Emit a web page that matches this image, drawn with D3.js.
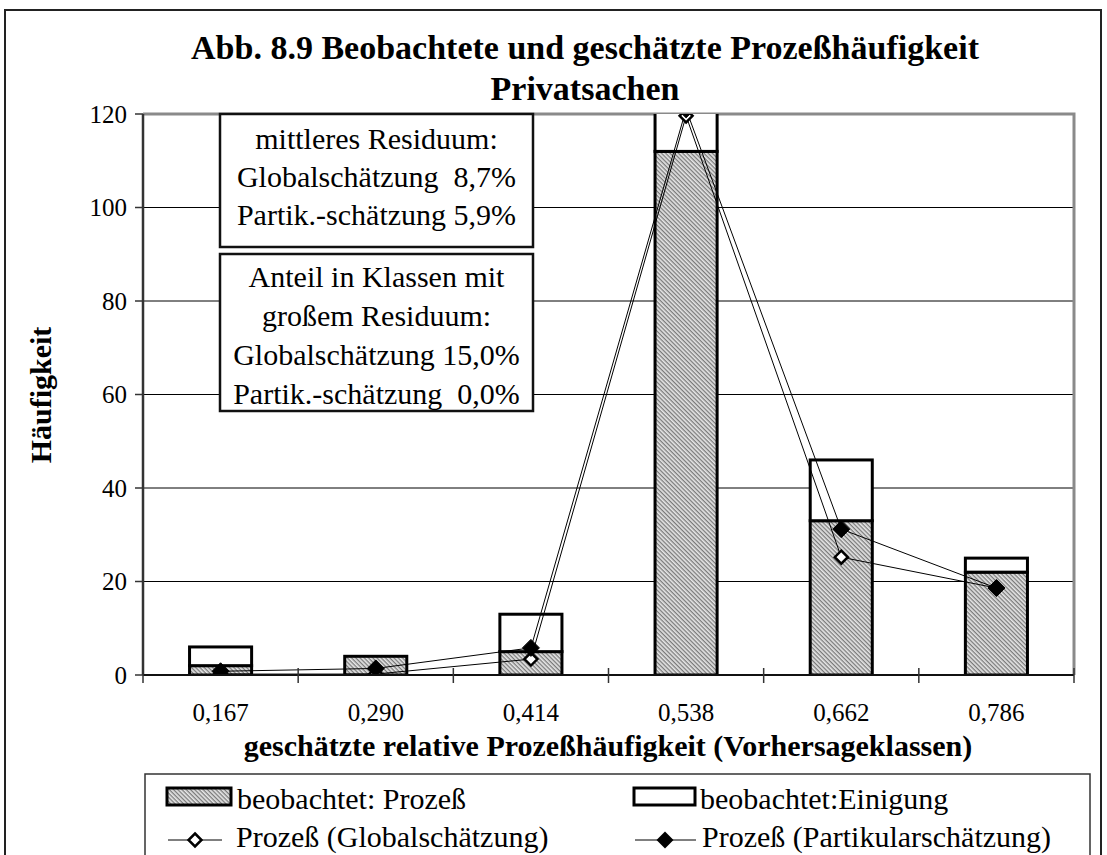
<!DOCTYPE html>
<html><head><meta charset="utf-8">
<script src="https://cdn.jsdelivr.net/npm/d3@7"></script>
<style>body{margin:0;background:#fff}svg{display:block}text{font-family:"Liberation Serif","Times New Roman",serif;fill:#000}</style>
</head><body><div id="c"></div>
<script>
const categories = ["0,167","0,290","0,414","0,538","0,662","0,786"];
const obsProzess = [2,4,5,112,33,22];
const obsEinigung = [4,0,8,14,13,3];
const estGlobal = [0.2,0.2,3.4,119.6,25.2,18.6];
const estPartikular = [0.8,1.4,5.8,121,31.2,18.6];
const yTicks = [0,20,40,60,80,100,120];
const titleLines = ["Abb. 8.9 Beobachtete und geschätzte Prozeßhäufigkeit","Privatsachen"];
const box1Lines = ["mittleres Residuum:","Globalschätzung  8,7%","Partik.-schätzung 5,9%"];
const box2Lines = ["Anteil in Klassen mit","großem Residuum:","Globalschätzung 15,0%","Partik.-schätzung  0,0%"];
const legendLabels = ["beobachtet: Prozeß","beobachtet:Einigung","Prozeß (Globalschätzung)","Prozeß (Partikularschätzung)"];

const W=1107,H=855;
const svg=d3.select("#c").append("svg").attr("width",W).attr("height",H);
const defs=svg.append("defs");
const pat=defs.append("pattern").attr("id","hatch").attr("patternUnits","userSpaceOnUse")
  .attr("width",3).attr("height",3).attr("patternTransform","rotate(45)");
pat.append("rect").attr("width",3).attr("height",3).attr("fill","#e6e6e6");
pat.append("rect").attr("width",3).attr("height",1.3).attr("fill","#7a7a7a");

// outer border
svg.append("rect").attr("x",5).attr("y",10).attr("width",1096).attr("height",860)
  .attr("fill","none").attr("stroke","#222").attr("stroke-width",2);

const L=143,R=1074,T=114,B=675;
const x=d3.scaleBand().domain(categories).range([L,R]).paddingInner(0.6).paddingOuter(0.3);
const y=d3.scaleLinear().domain([0,120]).range([B,T]);
defs.append("clipPath").attr("id","clip").append("rect").attr("x",L).attr("y",T).attr("width",R-L).attr("height",B-T);

// gridlines
svg.append("g").selectAll("line").data(yTicks.filter(d=>d>0&&d<120)).join("line")
  .attr("x1",L).attr("x2",R).attr("y1",d=>y(d)).attr("y2",d=>y(d)).attr("stroke","#000").attr("stroke-width",1);
// plot border top/right gray
svg.append("path").attr("d",`M${L},${T}H${R}V${B}`).attr("fill","none").attr("stroke","#8a8a8a").attr("stroke-width",3);

const g=svg.append("g").attr("clip-path","url(#clip)");
// bars
g.selectAll(".bp").data(categories).join("rect")
  .attr("x",d=>x(d)).attr("width",x.bandwidth())
  .attr("y",(d,i)=>y(obsProzess[i])).attr("height",(d,i)=>y(0)-y(obsProzess[i]))
  .attr("fill","url(#hatch)").attr("stroke","#000").attr("stroke-width",3);
g.selectAll(".be").data(categories.filter((d,i)=>obsEinigung[i]>0)).join("rect")
  .attr("x",d=>x(d)).attr("width",x.bandwidth())
  .attr("y",d=>{const i=categories.indexOf(d);return y(obsProzess[i]+obsEinigung[i]);})
  .attr("height",d=>{const i=categories.indexOf(d);return y(obsProzess[i])-y(obsProzess[i]+obsEinigung[i]);})
  .attr("fill","#fff").attr("stroke","#000").attr("stroke-width",3);

// axes
const ax=svg.append("g");
ax.append("line").attr("x1",L).attr("x2",L).attr("y1",T).attr("y2",B).attr("stroke","#333").attr("stroke-width",2.5);
ax.append("line").attr("x1",L).attr("x2",R).attr("y1",B).attr("y2",B).attr("stroke","#111").attr("stroke-width",2);
ax.selectAll(".yt").data(yTicks).join("line").attr("x1",L-8).attr("x2",L).attr("y1",d=>y(d)).attr("y2",d=>y(d)).attr("stroke","#333").attr("stroke-width",1.5);
ax.selectAll(".yl").data(yTicks).join("text").attr("x",L-16).attr("y",d=>y(d)).attr("text-anchor","end")
  .attr("dominant-baseline","central").attr("font-size",25).text(d=>d);
const step=x.step();
const bounds=d3.range(categories.length+1).map(i=>L+i*step);
ax.selectAll(".xt").data(bounds).join("line").attr("x1",d=>d).attr("x2",d=>d).attr("y1",B-7).attr("y2",B+8).attr("stroke","#333").attr("stroke-width",1.5);
ax.selectAll(".xl").data(categories).join("text").attr("x",d=>x(d)+x.bandwidth()/2).attr("y",712)
  .attr("text-anchor","middle").attr("dominant-baseline","central").attr("font-size",25).text(d=>d);

// lines
const cx=d=>x(d)+x.bandwidth()/2;
const line=vals=>d3.line().x((d,i)=>cx(categories[i])).y(d=>y(d))(vals);
g.append("path").attr("d",line(estGlobal)).attr("fill","none").attr("stroke","#000").attr("stroke-width",1);
g.append("path").attr("d",line(estPartikular)).attr("fill","none").attr("stroke","#000").attr("stroke-width",1);
const diamond=(s)=>`M0,${-s}L${s},0L0,${s}L${-s},0Z`;
g.selectAll(".mg").data(estGlobal).join("path").attr("d",diamond(6.5))
  .attr("transform",(d,i)=>`translate(${cx(categories[i])},${y(d)})`).attr("fill","#fff").attr("stroke","#000").attr("stroke-width",2.5);
g.selectAll(".mp").data(estPartikular).join("path").attr("d",diamond(8.5))
  .attr("transform",(d,i)=>`translate(${cx(categories[i])},${y(d)})`).attr("fill","#000").attr("stroke","#000").attr("stroke-width",1);

// text boxes
function tbox(lines,x0,y0,w,h,ys){
  svg.append("rect").attr("x",x0).attr("y",y0).attr("width",w).attr("height",h).attr("fill","#fff").attr("stroke","#111").attr("stroke-width",2.5);
  svg.append("g").selectAll("text").data(lines).join("text").attr("x",x0+w/2).attr("y",(d,i)=>ys[i])
    .attr("text-anchor","middle").attr("dominant-baseline","central").attr("font-size",30).style("white-space","pre").text(d=>d);
}
tbox(box1Lines,220,114,313,133,[138,176,214]);
tbox(box2Lines,220,254,313,157,[276,315,354,393]);

// titles
svg.append("g").selectAll("text").data(titleLines).join("text").attr("x",585).attr("y",(d,i)=>[47,88][i])
  .attr("text-anchor","middle").attr("dominant-baseline","central").attr("font-size",34).attr("font-weight","bold").text(d=>d);
svg.append("text").attr("x",608).attr("y",745).attr("text-anchor","middle").attr("dominant-baseline","central")
  .attr("font-size",30).attr("font-weight","bold").text("geschätzte relative Prozeßhäufigkeit (Vorhersageklassen)");
svg.append("text").attr("transform","translate(40,395) rotate(-90)").attr("text-anchor","middle").attr("dominant-baseline","central")
  .attr("font-size",30).attr("font-weight","bold").text("Häufigkeit");

// legend
svg.append("rect").attr("x",145).attr("y",774).attr("width",945).attr("height",100).attr("fill","#fff").attr("stroke","#333").attr("stroke-width",1.5);
const lg=svg.append("g");
const lpos=[[167,798],[633,798],[167,836],[635,836]];
lg.append("rect").attr("x",167).attr("y",788).attr("width",64).attr("height",17).attr("fill","url(#hatch)").attr("stroke","#000").attr("stroke-width",3);
lg.append("rect").attr("x",634).attr("y",788).attr("width",61).attr("height",17).attr("fill","#fff").attr("stroke","#000").attr("stroke-width",3);
lg.append("line").attr("x1",168).attr("x2",222).attr("y1",840).attr("y2",840).attr("stroke","#000");
lg.append("path").attr("d",diamond(6.5)).attr("transform","translate(195,840)").attr("fill","#fff").attr("stroke","#000").attr("stroke-width",2.5);
lg.append("line").attr("x1",635).attr("x2",696).attr("y1",840).attr("y2",840).attr("stroke","#000");
lg.append("path").attr("d",diamond(8.5)).attr("transform","translate(665,840)").attr("fill","#000");
const ltx=[237,700,236,702];
lg.selectAll("text").data(legendLabels).join("text").attr("x",(d,i)=>ltx[i]).attr("y",(d,i)=>lpos[i][1])
  .attr("dominant-baseline","central").attr("font-size",30).text(d=>d);
</script></body></html>
